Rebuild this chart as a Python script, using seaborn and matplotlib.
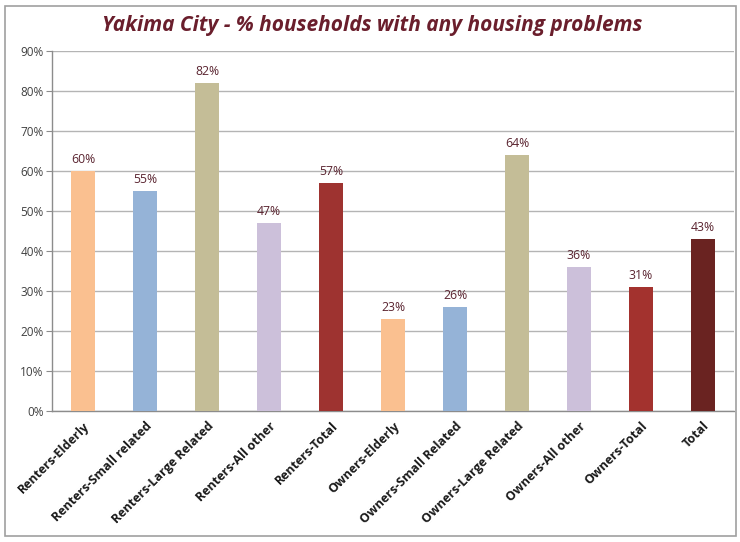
import matplotlib
matplotlib.use("Agg")
import matplotlib.pyplot as plt
import seaborn as sns
import pandas as pd
from matplotlib.patches import Rectangle

categories = ["Renters-Elderly", "Renters-Small related", "Renters-Large Related",
              "Renters-All other", "Renters-Total", "Owners-Elderly",
              "Owners-Small Related", "Owners-Large Related", "Owners-All other",
              "Owners-Total", "Total"]
values = [60, 55, 82, 47, 57, 23, 26, 64, 36, 31, 43]
colors = ["#FAC090", "#95B3D7", "#C4BD97", "#CCC0DA", "#9E3330",
          "#FAC090", "#95B3D7", "#C4BD97", "#CCC0DA", "#A3322E", "#6A2321"]
y_ticks = [0, 10, 20, 30, 40, 50, 60, 70, 80, 90]

df = pd.DataFrame({"category": categories, "value": values})

sns.set_style("white")
plt.rcParams["font.family"] = ["Open Sans", "DejaVu Sans"]

fig = plt.figure(figsize=(7.4, 5.42), dpi=100)
ax = fig.add_axes([52 / 740, 1 - 411 / 542, (734 - 52) / 740, 360 / 542])

sns.barplot(data=df, x="category", y="value", hue="category", palette=colors,
            legend=False, width=0.39, saturation=1, ax=ax, zorder=3,
            edgecolor="none", linewidth=0)

ax.set_ylim(0, 90)
ax.set_xlim(-0.5, len(categories) - 0.5)
ax.set_yticks(y_ticks)
ax.set_yticklabels([f"{t}%" for t in y_ticks], fontsize=8.5, color="#404040")
ax.yaxis.grid(True, color="#B4B4B4", linewidth=1.0, zorder=0)
ax.set_axisbelow(True)

# x ticks sit between categories; labels at category centres
ax.set_xticks(range(len(categories)))
ax.set_xticklabels(categories, rotation=45, ha="right", rotation_mode="anchor",
                   fontsize=9, fontweight="bold", color="#1a1a1a")
ax.tick_params(axis="x", length=0, pad=6)
ax.set_xticks([i + 0.5 for i in range(-1, len(categories))], minor=True)
ax.tick_params(axis="x", which="minor", length=4, color="#8c8c8c", direction="out")
ax.tick_params(axis="y", length=4, color="#8c8c8c", direction="out", left=True, pad=2)

ax.set_xlabel("")
ax.set_ylabel("")
for side in ["top", "right"]:
    ax.spines[side].set_visible(False)
for side in ["left", "bottom"]:
    ax.spines[side].set_color("#8c8c8c")
    ax.spines[side].set_linewidth(1.0)

for i, v in enumerate(values):
    ax.text(i, v + 1.3, f"{v}%", ha="center", va="bottom", fontsize=8.8,
            color="#5A2430")

fig.text(372 / 740, 1 - 25 / 542, "Yakima City - % households with any housing problems",
         ha="center", va="center", fontsize=15, fontweight="bold", fontstyle="italic",
         color="#6A1E2C")

fig.patches.append(Rectangle((5 / 740, 6 / 542), 731 / 740, 530 / 542,
                             transform=fig.transFigure, fill=False,
                             edgecolor="#A0A0A0", linewidth=1.2))

fig.savefig("out.png", dpi=100, facecolor="white")
